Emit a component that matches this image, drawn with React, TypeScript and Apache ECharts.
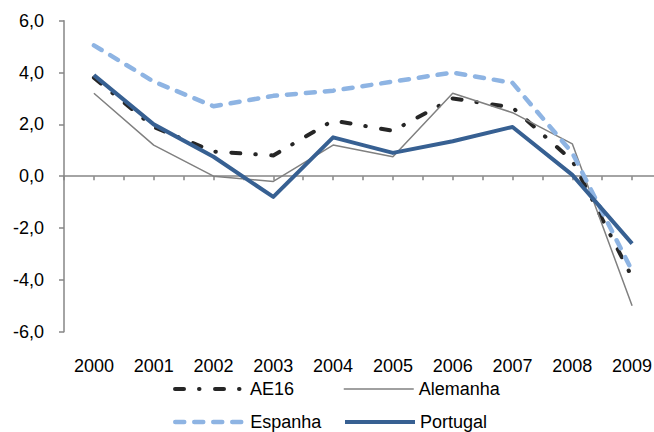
import React, { useEffect, useRef } from "react";
import * as echarts from "echarts";

const years = [2000, 2001, 2002, 2003, 2004, 2005, 2006, 2007, 2008, 2009];
const ae16 = [3.8, 1.9, 0.95, 0.8, 2.15, 1.75, 3.0, 2.65, 0.6, -3.9];
const alemanha = [3.2, 1.2, 0.0, -0.2, 1.2, 0.75, 3.2, 2.45, 1.25, -5.0];
const espanha = [5.05, 3.65, 2.7, 3.1, 3.3, 3.65, 4.0, 3.6, 0.9, -3.65];
const portugal = [3.9, 2.0, 0.75, -0.8, 1.5, 0.9, 1.35, 1.9, 0.05, -2.6];
const yTicks = { min: -6, max: 6, interval: 2 };

const FONT = "'Liberation Sans', Arial, sans-serif";
const AXIS_COLOR = "#868686";

const pts = (vals: number[]) => vals.map((v, i) => [years[i], v]);

export default function App() {
  const ref = useRef<HTMLDivElement>(null);
  useEffect(() => {
    if (!ref.current) return;
    const chart = echarts.init(ref.current, undefined, { renderer: "svg" });
    const legendBase = {
      orient: "horizontal" as const,
      padding: 0,
      itemWidth: 70,
      itemHeight: 14,
      itemStyle: { opacity: 0, color: "transparent", borderColor: "transparent", borderWidth: 0 },
      textStyle: { fontSize: 18, color: "#000", fontFamily: FONT },
    };
    chart.setOption({
      animation: false,
      grid: {
        left: 64,
        top: 20.7,
        width: 598,
        bottom: 100.3,
        containLabel: false,
        outerBoundsMode: "none",
      },
      xAxis: [
        {
          type: "value",
          min: 1999.5,
          max: 2009.5,
          interval: 0.5,
          axisLine: { show: true, onZero: true, lineStyle: { color: AXIS_COLOR, width: 1.5 } },
          axisTick: { show: true, length: 4, lineStyle: { color: AXIS_COLOR, width: 1.5 } },
          axisLabel: { show: false },
          splitLine: { show: false },
        },
        {
          type: "value",
          position: "bottom",
          min: 1999.5,
          max: 2009.5,
          interval: 0.5,
          axisLine: { show: false, onZero: false },
          axisTick: { show: false },
          splitLine: { show: false },
          axisLabel: {
            show: true,
            margin: 25,
            fontSize: 18,
            color: "#000",
            fontFamily: FONT,
            formatter: (v: number) => (Math.abs(v - Math.round(v)) < 1e-6 ? String(Math.round(v)) : ""),
          },
        },
      ],
      yAxis: {
        type: "value",
        min: yTicks.min,
        max: yTicks.max,
        interval: yTicks.interval,
        axisLine: { show: true, lineStyle: { color: AXIS_COLOR, width: 1.5 } },
        axisTick: { show: true, length: 5, lineStyle: { color: AXIS_COLOR, width: 1.5 } },
        splitLine: { show: false },
        axisLabel: {
          margin: 20,
          fontSize: 18,
          color: "#000",
          fontFamily: FONT,
          formatter: (v: number) => v.toFixed(1).replace(".", ","),
        },
      },
      legend: [
        { ...legendBase, data: ["AE16"], left: 173, top: 380, lineStyle: { width: 4 } },
        { ...legendBase, data: ["Alemanha"], left: 343, top: 380, lineStyle: { width: 1.5 } },
        { ...legendBase, data: ["Espanha"], left: 173, top: 413, lineStyle: { width: 4.5 } },
        { ...legendBase, data: ["Portugal"], left: 343, top: 413, lineStyle: { width: 4 } },
      ],
      series: [
        {
          name: "AE16",
          type: "line",
          data: pts(ae16),
          symbol: "none",
          lineStyle: { color: "#262626", width: 4, type: [9, 15, 0.5, 15.5], cap: "round", join: "round" },
          itemStyle: { color: "#262626" },
        },
        {
          name: "Alemanha",
          type: "line",
          data: pts(alemanha),
          symbol: "none",
          lineStyle: { color: "#808080", width: 1.5 },
          itemStyle: { color: "#808080" },
        },
        {
          name: "Espanha",
          type: "line",
          data: pts(espanha),
          symbol: "none",
          lineStyle: { color: "#8EB4E3", width: 4.5, type: [9, 10], cap: "round", join: "round" },
          itemStyle: { color: "#8EB4E3" },
        },
        {
          name: "Portugal",
          type: "line",
          data: pts(portugal),
          symbol: "none",
          lineStyle: { color: "#376092", width: 4, join: "round" },
          itemStyle: { color: "#376092" },
        },
      ],
    });
    return () => chart.dispose();
  }, []);
  return (
    <div
      ref={ref}
      style={{ position: "fixed", left: 0, top: 0, width: 654, height: 432, background: "#fff" }}
    />
  );
}
